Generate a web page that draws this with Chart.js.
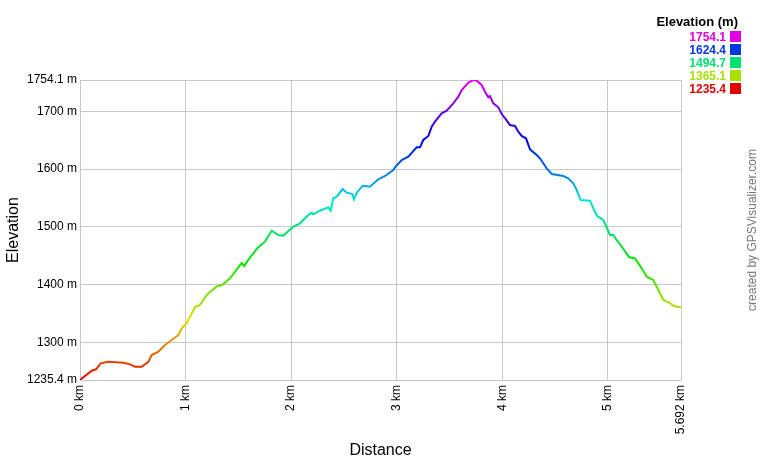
<!DOCTYPE html>
<html>
<head>
<meta charset="utf-8">
<script src="https://cdn.jsdelivr.net/npm/chart.js@4"></script>
<style>
  body { margin: 0; background: #fff; }
  #wrap { width: 760px; height: 460px; }
</style>
</head>
<body>
<div id="wrap"><canvas id="perfil" width="760" height="460"></canvas></div>
<script>
// Distance along the track (km) and elevation (m)
const distanceKm = [
  0, 0.047, 0.111, 0.152, 0.196, 0.268, 0.410, 0.474, 0.521, 0.584,
  0.647, 0.679, 0.742, 0.805, 0.868, 0.931, 0.963, 1.010, 1.089, 1.136,
  1.200, 1.295, 1.345, 1.421, 1.531, 1.555, 1.600, 1.681, 1.752, 1.815,
  1.878, 1.925, 2.020, 2.084, 2.162, 2.194, 2.209, 2.273, 2.352, 2.374,
  2.399, 2.431, 2.488, 2.526, 2.579, 2.595, 2.621, 2.677, 2.746, 2.825,
  2.889, 2.967, 2.983, 3.047, 3.109, 3.189, 3.220, 3.251, 3.299, 3.331,
  3.362, 3.425, 3.473, 3.535, 3.583, 3.615, 3.677, 3.725, 3.757, 3.804,
  3.836, 3.867, 3.883, 3.914, 3.962, 3.994, 4.034, 4.072, 4.120, 4.151,
  4.183, 4.224, 4.262, 4.325, 4.356, 4.420, 4.467, 4.577, 4.624, 4.672,
  4.704, 4.742, 4.830, 4.868, 4.899, 4.956, 4.982, 5.019, 5.051, 5.083,
  5.130, 5.202, 5.256, 5.320, 5.367, 5.430, 5.462, 5.524, 5.557, 5.581,
  5.626, 5.682, 5.692
];
const elevationM = [
  1235.4, 1242.3, 1251.5, 1253.9, 1264.3, 1267.0, 1265.3, 1262.5, 1258.4, 1258.4,
  1267.0, 1278.6, 1284.3, 1295.9, 1304.6, 1313.2, 1324.8, 1333.4, 1361.6, 1365.1,
  1382.4, 1397.4, 1399.7, 1411.2, 1437.7, 1432.5, 1444.6, 1463.6, 1474.5, 1493.5,
  1486.1, 1484.9, 1500.5, 1506.3, 1520.7, 1524.7, 1521.9, 1528.1, 1534.0, 1528.1,
  1549.6, 1552.3, 1565.6, 1559.3, 1557.0, 1547.8, 1559.3, 1571.3, 1569.6, 1582.4,
  1588.1, 1598.5, 1603.2, 1615.8, 1621.5, 1637.7, 1637.7, 1650.4, 1657.3, 1673.4,
  1682.0, 1696.5, 1701.0, 1713.8, 1725.3, 1736.8, 1749.4, 1754.1, 1752.9, 1745.5,
  1733.9, 1724.2, 1726.4, 1713.8, 1706.9, 1695.3, 1686.1, 1676.3, 1674.6, 1664.7,
  1657.3, 1653.3, 1634.3, 1624.4, 1618.7, 1601.4, 1591.6, 1588.1, 1584.1, 1575.5,
  1563.9, 1546.6, 1545.4, 1529.3, 1519.0, 1512.0, 1501.7, 1486.1, 1486.1, 1477.5,
  1465.9, 1447.6, 1445.8, 1428.5, 1414.0, 1408.3, 1396.7, 1373.7, 1370.8, 1369.1,
  1363.4, 1361.1, 1360.8
];

// Tick positions
const xTicks = [0, 1, 2, 3, 4, 5, 5.692];
const yTicks = [1235.4, 1300, 1400, 1500, 1600, 1700, 1754.1];

// Colour key (top right)
const legendValues = ['1754.1', '1624.4', '1494.7', '1365.1', '1235.4'];

const minElev = 1235.4;
const maxElev = 1754.1;

function corAltitude(v) {
  let t = (v - minElev) / (maxElev - minElev);
  return 'hsl(' + (t * 300) + ',100%,44%)';
}

const fonte = "'Liberation Sans', Arial, sans-serif";

const pontos = distanceKm.map((d, i) => ({ x: d, y: elevationM[i] }));

const legendaPlugin = {
  id: 'legenda',
  afterDraw(chart) {
    const c = chart.ctx;
    c.save();
    c.textBaseline = 'alphabetic';
    c.textAlign = 'right';
    c.fillStyle = '#000';
    c.font = 'bold 13px ' + fonte;
    c.fillText('Elevation (m)', 738, 26);
    c.font = 'bold 12px ' + fonte;
    legendValues.forEach((v, i) => {
      let y = 36 + i * 13.2;
      let cor = corAltitude(parseFloat(v));
      c.fillStyle = cor;
      c.fillText(v, 726, y + 4.5);
      c.fillRect(730, Math.round(y - 5.5), 11, 11);
    });
    // credit text, vertical
    c.translate(756, 230);
    c.rotate(-Math.PI / 2);
    c.textAlign = 'center';
    c.fillStyle = '#777';
    c.font = '12px ' + fonte;
    c.fillText('created by GPSVisualizer.com', 0, 0);
    c.restore();
  }
};

const ctx = document.getElementById('perfil').getContext('2d');
const perfil = new Chart(ctx, {
  type: 'line',
  data: {
    datasets: [{
      data: pontos,
      borderWidth: 2,
      pointRadius: 0,
      tension: 0,
      fill: false,
      borderColor: function(context) {
        const area = context.chart.chartArea;
        if (!area) return '#d00';
        const g = context.chart.ctx.createLinearGradient(0, area.bottom, 0, area.top);
        for (let i = 0; i <= 10; i++) {
          g.addColorStop(i / 10, 'hsl(' + (i * 30) + ',100%,44%)');
        }
        return g;
      }
    }]
  },
  options: {
    responsive: false,
    animation: false,
    layout: { padding: { top: 80, right: 79, left: 0, bottom: 0 } },
    plugins: {
      legend: { display: false },
      tooltip: { enabled: false }
    },
    scales: {
      x: {
        type: 'linear',
        min: 0,
        max: 5.692,
        afterBuildTicks: (scale) => { scale.ticks = xTicks.map(v => ({ value: v })); },
        afterFit: (scale) => { scale.height = 80; },
        grid: { color: '#c8c8c8', drawTicks: false },
        border: { color: '#c8c8c8' },
        ticks: {
          autoSkip: false,
          minRotation: 90,
          maxRotation: 90,
          padding: 5,
          color: '#000',
          font: { family: fonte, size: 12 },
          callback: (v) => v + ' km'
        },
        title: {
          display: true,
          text: 'Distance',
          color: '#000',
          padding: 0,
          font: { family: fonte, size: 16 }
        }
      },
      y: {
        type: 'linear',
        min: minElev,
        max: maxElev,
        afterBuildTicks: (scale) => { scale.ticks = yTicks.map(v => ({ value: v })); },
        afterFit: (scale) => { scale.width = 80; },
        grid: { color: '#c8c8c8', drawTicks: false },
        border: { color: '#c8c8c8' },
        ticks: {
          padding: 3,
          color: '#000',
          font: { family: fonte, size: 12 },
          callback: (v) => v + ' m'
        },
        title: {
          display: true,
          text: 'Elevation',
          color: '#000',
          padding: { top: 4, bottom: 0 },
          font: { family: fonte, size: 16 }
        }
      }
    }
  },
  plugins: [legendaPlugin]
});
</script>
</body>
</html>
